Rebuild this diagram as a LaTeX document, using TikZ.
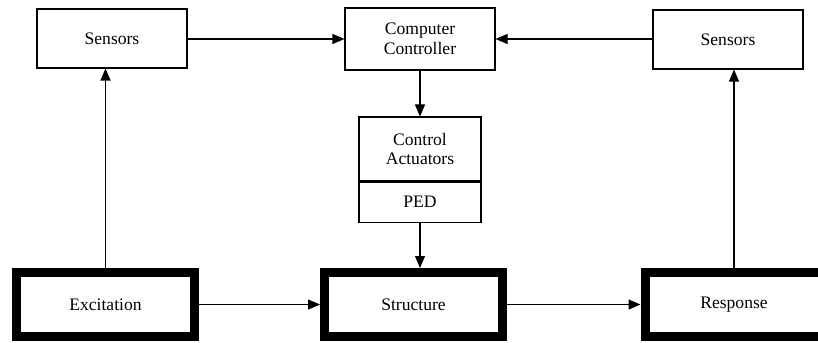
\documentclass[tikz,border=0pt]{standalone}
\usepackage{fontspec}
\setmainfont{Liberation Serif}
\usetikzlibrary{arrows.meta,positioning,calc}
\tikzset{
    bloc/.style={draw,line width=0.9pt,minimum width=150*0.03cm,minimum height=59*0.03cm,
      align=center,font=\fontsize{15}{17}\selectfont,inner sep=0pt},
    grosbloc/.style={draw,line width=9*0.03cm,minimum width=178*0.03cm,minimum height=64*0.03cm,
      font=\fontsize{15}{17}\selectfont,inner sep=0pt},
    fleche/.style={line width=0.9pt,-{Triangle[length=12*0.03cm,width=10*0.03cm]}},
  }
\begin{document}
\begin{tikzpicture}[x=0.03cm,y=-0.03cm]
				  \useasboundingbox (0,0) rectangle (818,343);
				  %ligne du haut
				  \node[bloc] (capteurG) at (112,38.5) {Sensors};
				  \node[bloc,minimum height=62*0.03cm] (ctrl) at (420,39) {Computer\\Controller};
				  \node[bloc] (capteurD) at (728,39.5) {Sensors};
				  %actionneurs
				  \node[bloc,minimum width=122*0.03cm,minimum height=64*0.03cm] (act) at (420,149) {Control\\Actuators};
				  \node[bloc,minimum width=122*0.03cm,minimum height=40*0.03cm,below=0pt of act] (ped) {PED};
				  %ligne du bas
				  \node[grosbloc] (exc) at (105.5,304.5) {Excitation};
				  \node[grosbloc] (struc) at (413.5,304.5) {Structure};
				  \node[grosbloc] (rep) at (734,304.5) {Response};
				  \draw[fleche] (capteurG.east |- ctrl.west) -- (ctrl.west);
				  \draw[fleche] (capteurD.west |- ctrl.east) -- (ctrl.east);
				  \draw[fleche] (ctrl.south) -- (act.north);
				  \draw[fleche] (ped.south) -- (ped.south |- struc.north);
				  \draw[fleche] (exc.east) -- (struc.west);
				  \draw[fleche] (struc.east) -- (rep.west);
				  \draw[fleche] (exc.north) -- (exc.north |- capteurG.south);
				  \draw[fleche] (rep.north) -- (rep.north |- capteurD.south);
				  \end{tikzpicture}
\end{document}
